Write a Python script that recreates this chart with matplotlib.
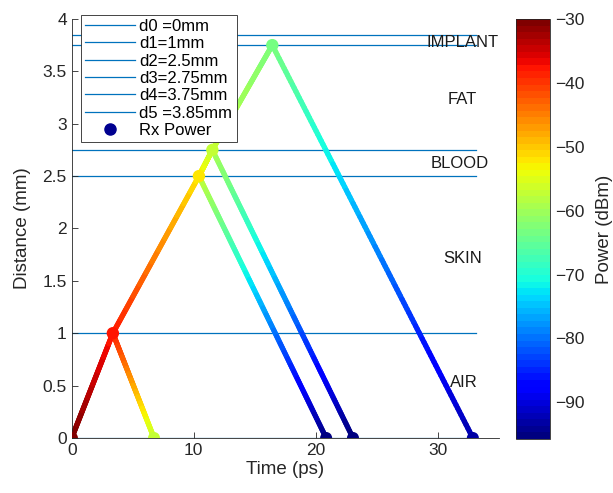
import numpy as np
import matplotlib
matplotlib.use("Agg")
from matplotlib import pyplot as plt
from matplotlib.collections import LineCollection
from matplotlib.lines import Line2D

plt.rcParams['font.family'] = ['Liberation Sans', 'DejaVu Sans']

# interface depths (mm) and legend labels
layer_depth = [0, 1, 2.5, 2.75, 3.75, 3.85]
layer_label = ["d0 =0mm", "d1=1mm", "d2=2.5mm", "d3=2.75mm", "d4=3.75mm", "d5 =3.85mm"]
line_end = 33.1

# forward ray: time (ps), depth (mm), power (dBm) at each interface
down_time = [0, 3.37, 10.42, 11.52, 16.43]
down_depth = [0, 1, 2.5, 2.75, 3.75]
down_power = [-30, -38, -52, -57, -63]

# reflected rays: power just after reflection, then at the receiver (depth 0)
refl_power = [-38, -57, -59, -63]
rx_time = [6.74, 20.84, 23.04, 32.86]
rx_power = [-57, -95, -95.7, -93]

# tissue names
tissue = ["IMPLANT", "FAT", "BLOOD", "SKIN", "AIR"]
tissue_x = [32.0, 32.0, 31.8, 32.0, 32.1]
tissue_y = [3.78, 3.23, 2.62, 1.71, 0.53]

clim = (-95.75, -30)
cmap = plt.get_cmap('jet', 64)
norm = plt.Normalize(*clim)

fig = plt.figure(figsize=(6.13, 4.93), dpi=100)
ax = fig.add_axes([0.117, 0.1116, 0.697, 0.8499])
cax = fig.add_axes([0.841, 0.1095, 0.0563, 0.852])

handles = []
for d, lab in zip(layer_depth, layer_label):
    ax.plot([0, line_end], [d, d], color='#0072BD', lw=0.9, zorder=1)
    handles.append(Line2D([], [], color='#0072BD', lw=0.9, label=lab))


def grad_segment(t0, d0, p0, t1, d1, p1):
    # split one leg into short pieces so the colour follows the power
    n = 120
    tt = np.linspace(t0, t1, n)
    dd = np.linspace(d0, d1, n)
    pp = np.linspace(p0, p1, n)
    pts = np.column_stack([tt, dd]).reshape(-1, 1, 2)
    segs = np.concatenate([pts[:-1], pts[1:]], axis=1)
    lc = LineCollection(segs, cmap=cmap, norm=norm, linewidths=3.8,
                        capstyle='round', zorder=2)
    lc.set_array(0.5 * (pp[:-1] + pp[1:]))
    ax.add_collection(lc)


for i in range(1, len(down_time)):
    # going down to interface i
    grad_segment(down_time[i - 1], down_depth[i - 1], down_power[i - 1],
                 down_time[i], down_depth[i], down_power[i])
    # coming back to the receiver
    grad_segment(down_time[i], down_depth[i], refl_power[i - 1],
                 rx_time[i - 1], 0, rx_power[i - 1])

ax.scatter(down_time, down_depth, c=down_power, cmap=cmap, norm=norm,
           s=80, zorder=3, linewidths=0)
ax.scatter(rx_time, [0] * len(rx_time), c=rx_power, cmap=cmap, norm=norm,
           s=75, zorder=3, linewidths=0)
handles.append(Line2D([], [], ls='none', marker='o', markersize=8,
                      markerfacecolor='#000090', markeredgecolor='#000090',
                      label='Rx Power'))

for name, x, y in zip(tissue, tissue_x, tissue_y):
    ax.text(x, y, name, fontsize=12, ha='center', va='center', color='#1a1a1a')

ax.set_xlim(0, 35)
ax.set_ylim(0, 4)
ax.set_xticks([0, 10, 20, 30])
ax.set_yticks(np.arange(0, 4.01, 0.5))
ax.set_yticklabels(['0', '0.5', '1', '1.5', '2', '2.5', '3', '3.5', '4'])
for s in ['top', 'right']:
    ax.spines[s].set_visible(False)
for s in ['left', 'bottom']:
    ax.spines[s].set_color('#262626')
    ax.spines[s].set_linewidth(0.6)
ax.tick_params(direction='in', length=4, width=0.6, colors='#262626', labelsize=12.5)
ax.set_xlabel('Time (ps)', fontsize=13.5, color='#262626', labelpad=2)
ax.set_ylabel('Distance (mm)', fontsize=13.5, color='#262626', labelpad=8)

leg = ax.legend(handles=handles, loc='upper left', bbox_to_anchor=(0.022, 1.01),
                fontsize=12, handlelength=3.0, handletextpad=0.25,
                labelspacing=0.14, borderpad=0.25, borderaxespad=0,
                fancybox=False, framealpha=1, edgecolor='#262626')
leg.get_frame().set_linewidth(0.6)

sm = plt.cm.ScalarMappable(norm=norm, cmap=cmap)
cb = fig.colorbar(sm, cax=cax)
cb.set_ticks([-30, -40, -50, -60, -70, -80, -90])
cb.ax.tick_params(direction='in', length=0, labelsize=12.5, colors='#262626')
cb.outline.set_linewidth(0.6)
cb.outline.set_edgecolor('#262626')
cb.set_label('Power (dBm)', fontsize=13.5, color='#262626', labelpad=8)

fig.savefig('out.png', dpi=100)
